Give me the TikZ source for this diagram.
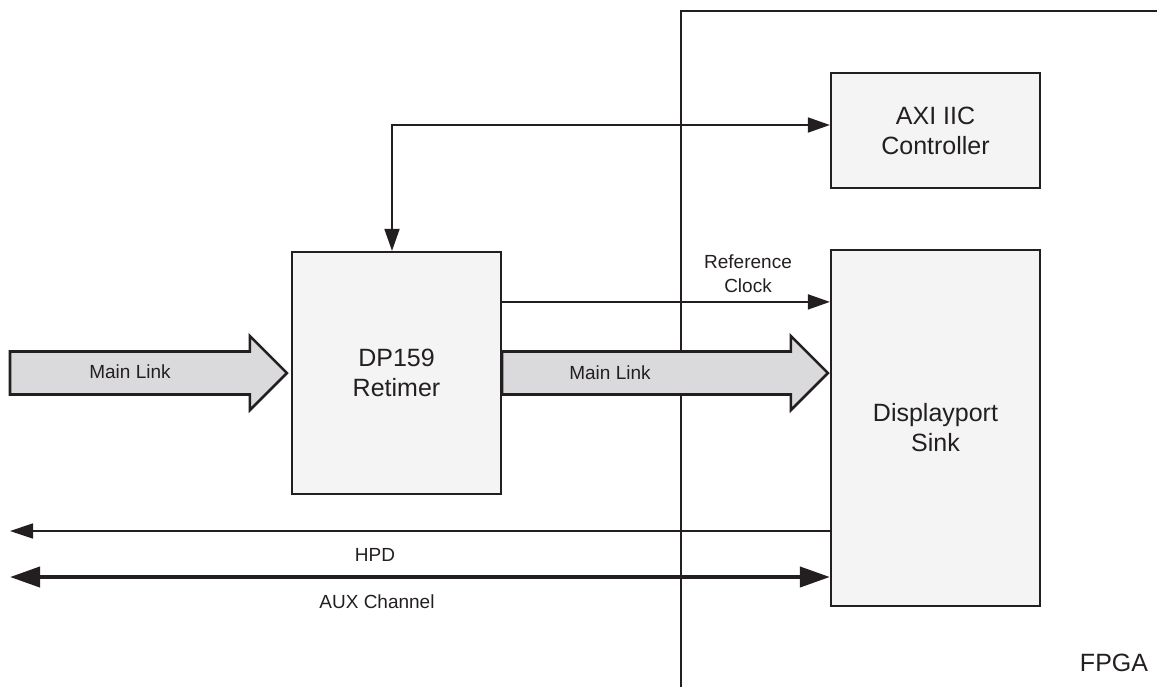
\documentclass[tikz,border=0pt]{standalone}
\usepackage{fontspec}
\setmainfont{Liberation Sans}
\usetikzlibrary{arrows.meta,calc}

\definecolor{ink}{HTML}{231F20}
\definecolor{boxgray}{HTML}{F4F4F4}
\definecolor{linkgray}{HTML}{DADADC}

% fat "main link" arrow from #1 to the tip #2
\newcommand\mainlink[2]{%
  \path[link] let \p1=(#1), \p2=(#2) in
    (\x1,\y2+10.75pt) -- (\x2-18.5pt,\y2+10.75pt) -- (\x2-18.5pt,\y2+18.5pt)
    -- (\x2,\y2) -- (\x2-18.5pt,\y2-18.5pt) -- (\x2-18.5pt,\y2-10.75pt)
    -- (\x1,\y2-10.75pt) -- cycle;}

\begin{document}
\begin{tikzpicture}[
  x=0.5pt, y=-0.5pt,
  box/.style={draw=ink, line width=1.1pt, fill=boxgray, text=ink, minimum width=104.5pt,
    align=center, font=\fontsize{12.5}{15}\selectfont},
  lbl/.style={text=ink, align=center, font=\fontsize{9.5}{12}\selectfont},
  sig/.style={draw=ink, line width=0.9pt, -{Triangle[length=11pt,width=7.5pt]}},
  bus/.style={draw=ink, line width=2pt,
    {Triangle[length=15pt,width=10pt]}-{Triangle[length=15pt,width=10pt]}},
  link/.style={draw=ink, line width=1.3pt, fill=linkgray}
]
\useasboundingbox (0,0) rectangle (1157,687);

% FPGA boundary
\coordinate (fb) at (681,687);
\draw[ink, line width=1pt] (fb) |- (1157,11);
\node[text=ink, font=\fontsize{12.5}{15}\selectfont] (fpga) at (1114,663) {FPGA};

\node[box, minimum height=57.5pt] (axi) at (935.5,130.5) {AXI IIC\\Controller};
\node[box, minimum height=178pt] (sink) at (935.5,428) {Displayport\\Sink};
\node[box, minimum height=121pt] (ret) at (396.5,373) {DP159\\Retimer};

% main link
\coordinate (mlin) at (10,372);
\mainlink{mlin}{[xshift=-2pt]ret.west}
\mainlink{ret.east}{[xshift=-1pt]sink.west |- ret.east}
\node[lbl] (ml1) at (130,372) {Main Link};
\node[lbl] (ml2) at (610,373) {Main Link};

% IIC
\draw[sig, {Triangle[length=11pt,width=7.5pt]}-{Triangle[length=11pt,width=7.5pt]}]
  ([xshift=-2.25pt]ret.north) |- ([yshift=2.75pt]axi.west);

% reference clock
\coordinate (refclk) at ([yshift=-25.5pt]ret.north east);
\draw[sig] (refclk) -- (refclk -| sink.west);
\node[lbl] (rclbl) at (748,274) {Reference\\Clock};

% HPD and AUX
\coordinate (hpdend) at (10,531);
\draw[sig, line width=0.8pt, -{Triangle[length=11.5pt,width=7.5pt]}] (sink.west |- hpdend) -- (hpdend);
\node[lbl] (hpd) at (375,555) {HPD};
\coordinate (auxend) at (10,577);
\draw[bus] (auxend) -- (sink.west |- auxend);
\node[lbl] (aux) at (377,602) {AUX Channel};
\end{tikzpicture}
\end{document}
